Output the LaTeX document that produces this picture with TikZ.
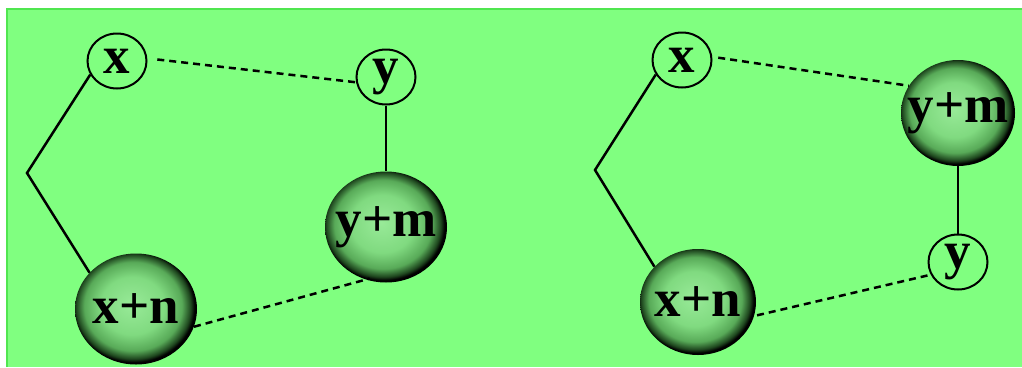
\documentclass[tikz,border=0pt]{standalone}
\usepackage{fontspec}
\setmainfont{Liberation Serif}
\usetikzlibrary{shapes.geometric}

\definecolor{bggreen}{RGB}{128,255,128}
\definecolor{bgedge}{RGB}{80,230,80}
\definecolor{sphA}{RGB}{152,234,152}
\definecolor{sphB}{RGB}{128,218,128}
\definecolor{sphC}{RGB}{88,170,88}
\definecolor{sphD}{RGB}{30,70,30}

% dark-rimmed green ball
\pgfdeclareradialshading{greenball}{\pgfpoint{-2bp}{2bp}}{%
  color(0bp)=(sphA); color(13bp)=(sphB); color(20bp)=(sphC);
  color(23.5bp)=(sphD); color(25bp)=(black); color(50bp)=(black)}

\tikzset{
  lbl/.style={font=\fontsize{53}{53}\selectfont\bfseries},
  smallnode/.style={lbl, ellipse, draw=black, line width=2pt,
    minimum width=59pt, minimum height=55pt, inner sep=0pt},
  % negative inner sep keeps the wide label from enlarging the ball
  ballnode/.style={lbl, ellipse, shading=greenball,
    minimum width=122pt, minimum height=111pt, inner sep=-25pt},
  solidlink/.style={draw=black, line width=2.5pt},
  dashlink/.style={draw=black, line width=2.5pt, dash pattern=on 7pt off 5pt},
}

\begin{document}
\begin{tikzpicture}[x=1pt,y=-1pt]
  \useasboundingbox (0,0) rectangle (1022,367);
  % panel background
  \fill[bggreen] (6,8) rectangle (1022,367);
  \draw[bgedge, line width=2pt] (7,367) -- (7,9) -- (1022,9);

  % first configuration
  \node[smallnode] (xL) at (117,61) {x};
  \node[smallnode] (yL) at (386,77) {y};
  \node[ballnode] (ymL) at (386,227) {y+m};
  \node[ballnode] (xnL) at (136,309) {x+n};
  \coordinate (bL) at (27,173);

  \draw[solidlink] (xL.207) -- (bL) -- (xnL.142);
  \draw[dashlink, shorten <=10pt] (xL.5) -- (yL.190);
  \draw[solidlink] (yL.south) -- (ymL.north);
  \draw[dashlink, shorten >=-4pt] (xnL.-17) -- (ymL.249);

  % second configuration
  \node[smallnode] (xR) at (682,60) {x};
  \node[ballnode, minimum width=114pt, minimum height=106pt] (ymR) at (958,113) {y+m};
  \node[smallnode] (yR) at (958,262) {y};
  \node[ballnode, minimum width=116pt, minimum height=106pt] (xnR) at (698,302) {x+n};
  \coordinate (bR) at (595,170);

  \draw[solidlink] (xR.209) -- (bR) -- (xnR.141);
  \draw[dashlink, shorten <=6pt] (xR.6) -- (ymR.151);
  \draw[solidlink] (ymR.south) -- (yR.north);
  \draw[dashlink, shorten <=3pt] (xnR.-14) -- (yR.205);
\end{tikzpicture}
\end{document}
